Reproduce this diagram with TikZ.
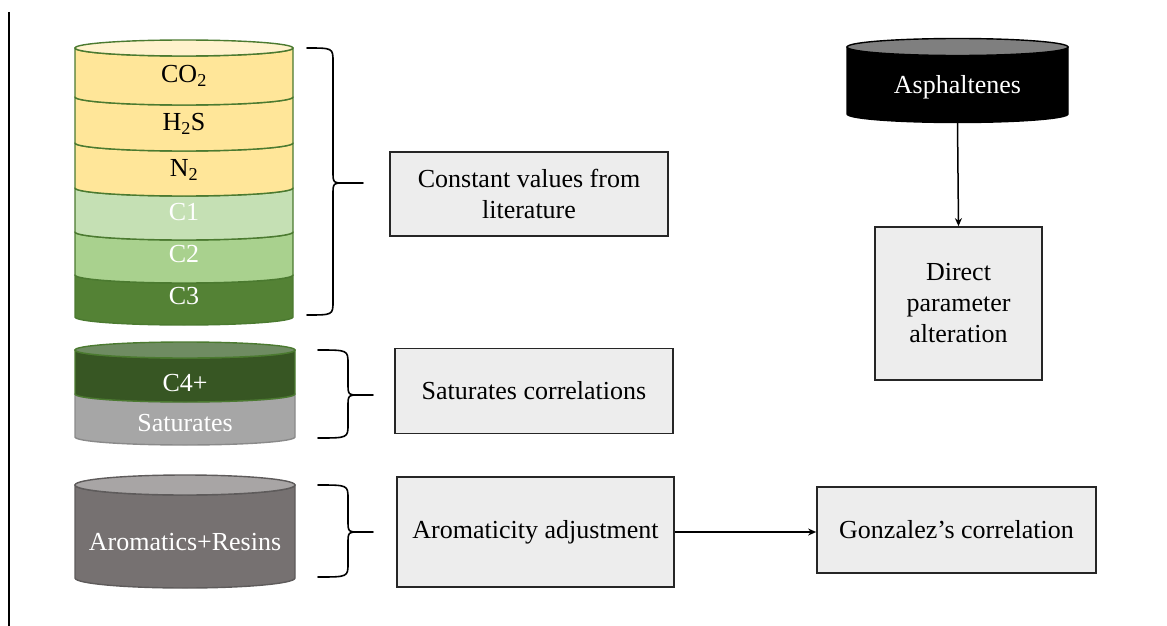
\documentclass[tikz,border=0pt]{standalone}
\usepackage{fontspec}
\setmainfont{Liberation Serif}
\usetikzlibrary{arrows.meta}

\definecolor{ytop}{HTML}{FFF2CC}
\definecolor{yband}{HTML}{FFE699}
\definecolor{gone}{HTML}{C5E0B4}
\definecolor{gtwo}{HTML}{A9D18E}
\definecolor{gthree}{HTML}{548235}
\definecolor{gedge}{HTML}{4B7A30}
\definecolor{cfour}{HTML}{375623}
\definecolor{cfourtop}{HTML}{6F8C62}
\definecolor{satfill}{HTML}{A6A6A6}
\definecolor{satedge}{HTML}{8A8A8A}
\definecolor{arfill}{HTML}{767171}
\definecolor{artop}{HTML}{A8A5A5}
\definecolor{aredge}{HTML}{5E5B5B}
\definecolor{asphtop}{HTML}{7F7F7F}
\definecolor{boxfill}{HTML}{EDEDED}
\definecolor{boxedge}{HTML}{262626}

% one band of a stacked cylinder: x0, x1, top y, bottom y, ry, fill, edge
\newcommand\cylband[7]{%
  \pgfmathsetmacro\rx{(#2-#1)/2}%
  \filldraw[fill=#6,draw=#7,line width=1.4pt,line join=round]
    (#1,-#3) -- (#1,-#4)
    arc[start angle=180,end angle=360,x radius=\rx pt,y radius=#5pt]
    -- (#2,-#3)
    arc[start angle=0,end angle=-180,x radius=\rx pt,y radius=#5pt] -- cycle;}
% top lid of a cylinder: x0, x1, y, ry, fill, edge
\newcommand\cyllid[6]{%
  \pgfmathsetmacro\rx{(#2-#1)/2}%
  \pgfmathsetmacro\cx{(#2+#1)/2}%
  \filldraw[fill=#5,draw=#6,line width=1.4pt]
    (\cx,-#3) ellipse[x radius=\rx pt,y radius=#4pt];}
% curly brace opening to the right: left x, spine x, tip x, top y, tip y, bottom y
\newcommand\cbrace[6]{%
  \draw[bracestyle] (#1,-#4) .. controls (#2,-#4) .. (#2,-#4-14)
    -- (#2,-#5+12) .. controls (#2,-#5) .. (#2+12,-#5) -- (#3,-#5);
  \draw[bracestyle] (#2+12,-#5) .. controls (#2,-#5) .. (#2,-#5-12)
    -- (#2,-#6+14) .. controls (#2,-#6) .. (#1,-#6);}

\tikzset{
  bracestyle/.style={line width=1.6pt,black,line cap=round},
  infobox/.style={draw=boxedge,fill=boxfill,line width=1.7pt,align=center,
    inner sep=0pt},
  lbl/.style={inner sep=0pt,align=center},
  flow/.style={line width=1.5pt,-{Stealth[length=8pt,width=7pt]}},
}

\begin{document}
\begin{tikzpicture}[x=1pt,y=1pt,font=\fontsize{26}{31}\selectfont]
\useasboundingbox (0,0) rectangle (1167,-626);

% left rule
\draw[line width=2pt] (9,-12) -- (9,-626);

% gas / light ends cylinder
\cylband{75}{293}{275}{317}{8}{gthree}{gedge}
\cylband{75}{293}{232}{275}{8}{gtwo}{gedge}
\cylband{75}{293}{188}{232}{8}{gone}{gedge}
\cylband{75}{293}{143}{188}{8}{yband}{gedge}
\cylband{75}{293}{97}{143}{8}{yband}{gedge}
\cylband{75}{293}{48}{97}{8}{yband}{gedge}
\cyllid{75}{293}{48}{8}{ytop}{gedge}
\node[lbl] (co2) at (184,-76) {CO\textsubscript{2}};
\node[lbl] (h2s) at (184,-124) {H\textsubscript{2}S};
\node[lbl] (n2)  at (184,-170) {N\textsubscript{2}};
\node[lbl,white] (c1) at (184,-212) {C1};
\node[lbl,white] (c2) at (184,-254) {C2};
\node[lbl,white] (c3) at (184,-296) {C3};

% C4+ / saturates cylinder
\cylband{75}{295}{394}{437}{8}{satfill}{satedge}
\cylband{75}{295}{350}{394}{8}{cfour}{gedge}
\cyllid{75}{295}{350}{8}{cfourtop}{gedge}
\node[lbl,white] (c4) at (185,-383) {C4+};
\node[lbl,white] (sat) at (185,-423) {Saturates};

% aromatics + resins cylinder
\cylband{75}{295}{485}{578}{10}{arfill}{aredge}
\cyllid{75}{295}{485}{10}{artop}{aredge}
\node[lbl,white] (ar) at (185,-542) {Aromatics+Resins};

% asphaltenes cylinder
\cylband{847}{1068}{47}{114}{8.5}{black}{black}
\cyllid{847}{1068}{47}{8.5}{asphtop}{black}
\node[lbl,white] (asph) at (957.5,-87) {Asphaltenes};
\coordinate (asphB) at (957.5,-122.5);

% braces
\cbrace{307}{333}{363}{48}{183}{315}
\cbrace{318}{348}{373}{350}{395}{438}
\cbrace{318}{348}{373}{485}{532}{577}

% method boxes
\node[infobox,minimum width=278pt,minimum height=84pt] (const)
  at (529,-194) {Constant values from\\literature};
\node[infobox,minimum width=278pt,minimum height=85pt] (satc)
  at (534,-391) {Saturates correlations};
\node[infobox,minimum width=277pt,minimum height=110pt] (arom)
  at (535.5,-532) {Aromaticity adjustment};
\node[infobox,minimum width=279pt,minimum height=86pt] (gonz)
  at (956.5,-530) {Gonzalez’s correlation};
\node[infobox,minimum width=167pt,minimum height=153pt] (direct)
  at (958.5,-303.5) {Direct\\parameter\\alteration};

% connectors
\draw[flow] (asphB) -- (direct.north);
\draw[flow] (arom.east) -- (arom.east -| gonz.west);
\end{tikzpicture}
\end{document}
